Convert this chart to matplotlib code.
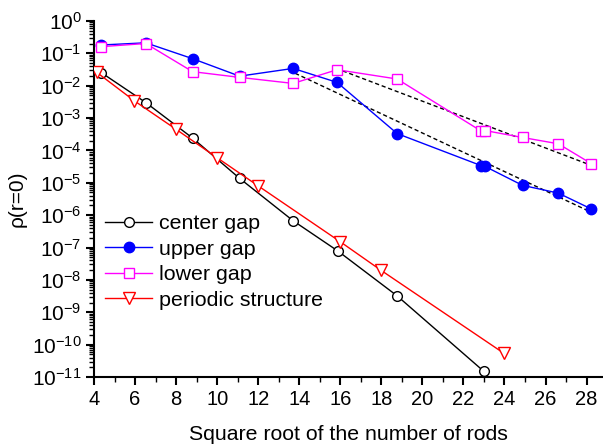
import matplotlib
matplotlib.use("Agg")
import matplotlib.pyplot as plt
from matplotlib.ticker import LogLocator, MultipleLocator, LogFormatterSciNotation, NullFormatter

plt.rcParams['font.family'] = ['Liberation Sans', 'DejaVu Sans']
plt.rcParams['mathtext.fontset'] = 'custom'
plt.rcParams['mathtext.rm'] = 'Liberation Sans'
plt.rcParams['mathtext.default'] = 'regular'

# data
center_x = [4.36, 6.52, 8.8, 11.09, 13.7, 15.88, 18.77, 22.99]
center_y = [2.5e-2, 3.0e-3, 2.4e-4, 1.37e-5, 6.7e-7, 7.8e-8, 3.2e-9, 1.5e-11]

upper_x = [4.36, 6.52, 8.8, 11.09, 13.7, 15.84, 18.77, 22.85, 23.05, 24.88, 26.62, 28.23]
upper_y = [0.18, 0.21, 0.068, 0.0196, 0.034, 0.0126, 3.3e-4, 3.4e-5, 3.2e-5, 8.3e-6, 4.8e-6, 1.55e-6]

lower_x = [4.36, 6.52, 8.8, 11.09, 13.7, 15.84, 18.77, 22.85, 23.05, 24.88, 26.62, 28.23]
lower_y = [0.16, 0.20, 0.027, 0.018, 0.0117, 0.031, 0.016, 4.0e-4, 4.1e-4, 2.5e-4, 1.6e-4, 3.9e-5]

periodic_x = [4.12, 5.96, 7.99, 10.0, 12.01, 16.0, 17.97, 23.97]
periodic_y = [2.6e-2, 3.4e-3, 4.5e-4, 5.9e-5, 7.9e-6, 1.5e-7, 2.0e-8, 5.4e-11]

fit_upper_x = [13.8, 28.2]
fit_upper_y = [2.4e-2, 1.25e-6]
fit_lower_x = [15.8, 28.2]
fit_lower_y = [3.4e-2, 3.5e-5]

fig = plt.figure(figsize=(6.03, 4.46), dpi=100)
ax = fig.add_axes([0.156, 0.1547, 0.844, 0.7985])

ax.plot(fit_upper_x, fit_upper_y, color='black', ls=(0, (3, 2)), lw=1.0, zorder=1)
ax.plot(fit_lower_x, fit_lower_y, color='black', ls=(0, (3, 2)), lw=1.0, zorder=1)

ms = 7
ax.plot(center_x, center_y, color='black', lw=1.0, marker='o', ms=ms, mfc='white', mec='black', mew=1.0, label='center gap', zorder=3)
ax.plot(upper_x, upper_y, color='blue', lw=1.0, marker='o', ms=ms + 0.5, mfc='blue', mec='blue', label='upper gap', zorder=3)
ax.plot(lower_x, lower_y, color='magenta', lw=1.0, marker='s', ms=ms, mfc='white', mec='magenta', mew=1.0, label='lower gap', zorder=3)
ax.plot(periodic_x, periodic_y, color='red', lw=1.0, marker='v', ms=ms + 1, mfc='white', mec='red', mew=1.0, label='periodic structure', zorder=3)

ax.set_yscale('log')
ax.set_xlim(4, 28.8)
ax.set_ylim(1e-11, 1e0)

ax.xaxis.set_major_locator(MultipleLocator(2))
ax.xaxis.set_minor_locator(MultipleLocator(1))
ax.yaxis.set_major_locator(LogLocator(base=10, numticks=20))
ax.yaxis.set_minor_locator(LogLocator(base=10, subs=range(2, 10), numticks=20))
ax.yaxis.set_major_formatter(LogFormatterSciNotation())
ax.yaxis.set_minor_formatter(NullFormatter())

for s in ['top', 'right']:
    ax.spines[s].set_visible(False)
for s in ['left', 'bottom']:
    ax.spines[s].set_linewidth(1.5)

ax.tick_params(axis='both', which='major', direction='out', length=6, width=1.5, pad=3)
ax.tick_params(axis='x', which='major', labelsize=14.5)
ax.tick_params(axis='y', which='major', labelsize=15)
ax.tick_params(axis='both', which='minor', direction='out', length=3.5, width=1.0)

ax.set_xlabel('Square root of the number of rods', fontsize=15.3, labelpad=12)
ax.set_ylabel('ρ(r=0)', fontsize=15, labelpad=4)

leg = ax.legend(loc='upper left', bbox_to_anchor=(0.021, 0.457), frameon=False, fontsize=15.4,
                handlelength=2.23, handletextpad=0.29, labelspacing=0.3,
                borderaxespad=0.0, borderpad=0.0)

fig.savefig('out.png', dpi=100)
